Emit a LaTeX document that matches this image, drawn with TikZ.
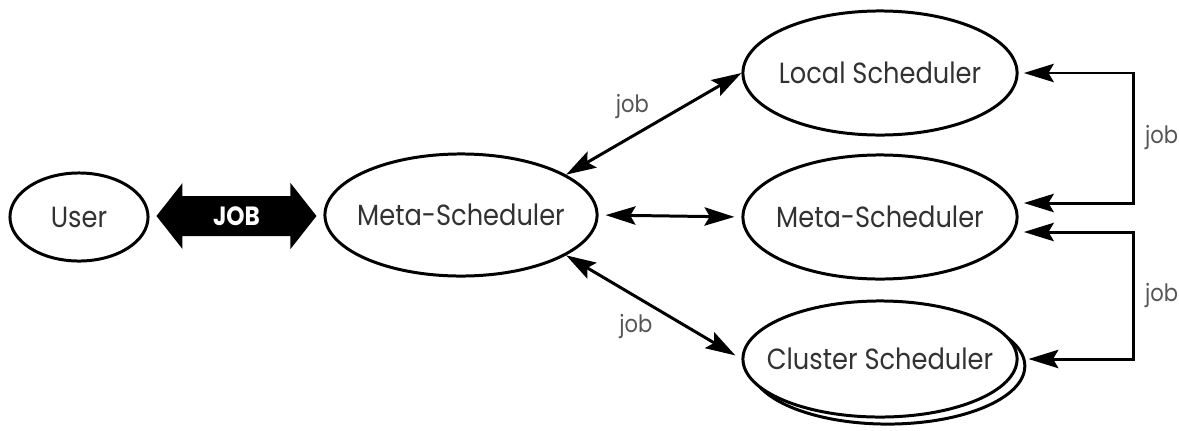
\documentclass[tikz,border=0pt]{standalone}
\usepackage{fontspec}
\setmainfont{Poppins}[FakeStretch=0.88]
\usepackage{tikz}
\usetikzlibrary{arrows.meta,calc,positioning,shapes.geometric,shadows}
\definecolor{txtgray}{RGB}{50,50,50}
\definecolor{lblgray}{RGB}{85,85,85}
\tikzset{
  sched/.style={ellipse, draw=black, line width=0.85pt, fill=white, inner sep=-0.4cm,
    minimum width=2.74cm, minimum height=1.24cm, text=txtgray,
    font=\fontsize{8.3}{9}\selectfont},
  usr/.style={sched, minimum width=1.38cm, minimum height=0.88cm},
  link/.style={line width=0.85pt, {Stealth[length=8.5pt,width=5.2pt,inset=1.5pt]}-{Stealth[length=8.5pt,width=5.2pt,inset=1.5pt]}},
  lbl/.style={text=lblgray, font=\fontsize{6.8}{8}\selectfont, inner sep=1pt},
  jobtxt/.style={text=white, font=\fontsize{7.5}{8}\bfseries\selectfont, inner sep=0pt}
}
\begin{document}
\begin{tikzpicture}[x=0.01cm, y=-0.01cm]
\useasboundingbox (0,0) rectangle (1179,430);
% schedulers
\node[usr] (user) at (79,217) {User};
\node[sched, minimum width=2.72cm, minimum height=1.22cm] (meta) at (461,215) {Meta-Scheduler};
\node[sched] (local) at (880,73) {Local Scheduler};
\node[sched] (metar) at (880,217) {Meta-Scheduler};
\node[sched, minimum height=1.16cm,
  copy shadow={shadow xshift=2.2pt, shadow yshift=-2pt, draw=black, fill=white, line width=0.85pt}]
  (cluster) at (880,359) {Cluster Scheduler};

% big JOB arrow
\coordinate (jobc) at ($(user.east)!0.5!(meta.west)$);
\fill[black] ($(jobc)+(-80,0)$) -- ++(26,-33) -- ++(0,13) -- ++(108,0) -- ++(0,-13)
  -- ++(26,33) -- ++(-26,33) -- ++(0,-13) -- ++(-108,0) -- ++(0,13) -- cycle;
\node[jobtxt] (job) at (jobc) {JOB};

% links
\draw[link] (meta.21) -- (local.west) node[lbl, pos=0.5, above left] {job};
\draw[link, shorten <=2pt, shorten >=2pt] (meta.east) -- (metar.west);
\draw[link, shorten >=2pt] (meta.-21) -- (cluster.west) node[lbl, pos=0.52, below left] {job};

\coordinate (bus1) at (1133,138);
\coordinate (bus2) at (1133,296);
\draw[link, shorten <=1.5pt, shorten >=1.5pt] (local.east) -| (bus1) node[lbl, right=2pt] {job}
  |- ($(metar.east)+(0,-14)$);
\draw[link, shorten <=1.5pt, shorten >=2.8pt] ($(metar.east)+(0,15)$) -| (bus2) node[lbl, right=2pt] {job}
  |- (cluster.east);
\end{tikzpicture}
\end{document}
